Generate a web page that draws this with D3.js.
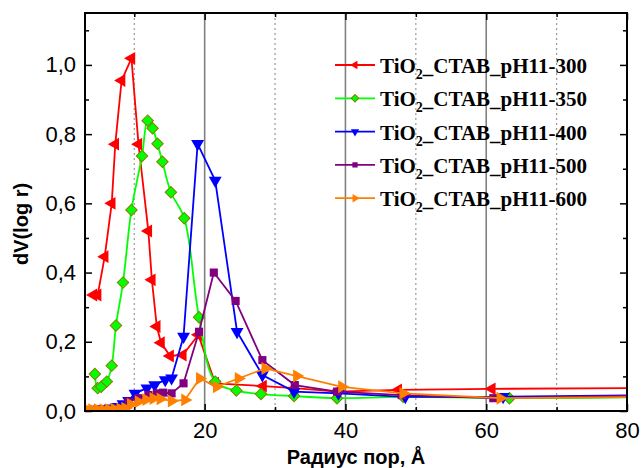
<!DOCTYPE html>
<html>
<head>
<meta charset="utf-8">
<script src="https://cdn.jsdelivr.net/npm/d3@7"></script>
<style>
  html, body { margin: 0; padding: 0; background: #fff; }
  #chart { width: 642px; height: 468px; }
  .tick-label { font-family: "Liberation Sans", Arial, sans-serif; font-size: 22px; fill: #000; }
  .axis-title { font-family: "Liberation Sans", Arial, sans-serif; font-size: 20px; font-weight: bold; fill: #000; }
  .legend-text { font-family: "Liberation Serif", "Times New Roman", serif; font-size: 21px; font-weight: bold; fill: #000; }
</style>
</head>
<body>
<div id="chart"></div>
<script>
// pore radius (A) and dV(log r) for each sample
const seriesNames = [
  "TiO2_CTAB_pH11-300",
  "TiO2_CTAB_pH11-350",
  "TiO2_CTAB_pH11-400",
  "TiO2_CTAB_pH11-500",
  "TiO2_CTAB_pH11-600"
]

const radius300 = [4.2, 4.8, 5.8, 6.8, 7.3, 8.2, 9.6, 10.6, 12.0, 12.5, 13.2, 13.8, 15.1, 16.9, 19.1, 21.5, 28.3, 32.8, 38.8, 47.5, 60.8, 95]
const dv300 = [0.335, 0.335, 0.446, 0.600, 0.771, 0.955, 1.019, 0.771, 0.520, 0.379, 0.244, 0.197, 0.159, 0.162, 0.220, 0.080, 0.072, 0.066, 0.056, 0.061, 0.064, 0.068]

const radius350 = [4.4, 4.8, 5.3, 6.1, 6.8, 7.4, 8.4, 9.6, 11.1, 11.9, 12.6, 13.3, 14.0, 15.2, 17.1, 19.2, 21.5, 24.5, 28.0, 32.7, 38.8, 48.2, 63.3, 95]
const dv350 = [0.107, 0.066, 0.070, 0.085, 0.131, 0.247, 0.371, 0.581, 0.737, 0.839, 0.817, 0.772, 0.720, 0.632, 0.557, 0.271, 0.085, 0.059, 0.049, 0.043, 0.037, 0.041, 0.037, 0.044]

const radius400 = [3.5, 4.2, 5.0, 5.8, 6.6, 7.5, 8.4, 9.2, 10.1, 11.8, 12.9, 14.4, 15.3, 17.0, 19.0, 21.5, 24.6, 28.2, 32.7, 39.0, 48.5, 62.4, 95]
const dv400 = [0.003, 0.004, 0.005, 0.006, 0.008, 0.012, 0.020, 0.030, 0.051, 0.066, 0.075, 0.090, 0.095, 0.215, 0.772, 0.666, 0.229, 0.104, 0.056, 0.051, 0.041, 0.041, 0.049]

const radius500 = [3.5, 4.2, 5.0, 5.8, 6.6, 7.4, 8.2, 9.2, 10.6, 12.0, 13.2, 14.1, 15.3, 17.0, 19.2, 21.3, 24.4, 28.2, 32.8, 38.8, 48.0, 61.0, 95]
const dv500 = [0.003, 0.003, 0.004, 0.004, 0.005, 0.006, 0.008, 0.027, 0.037, 0.046, 0.051, 0.053, 0.051, 0.080, 0.229, 0.400, 0.318, 0.147, 0.075, 0.056, 0.046, 0.037, 0.049]

const radius600 = [3.3, 4.0, 4.8, 5.6, 6.4, 7.2, 8.0, 8.7, 9.5, 10.6, 11.7, 12.7, 13.7, 15.3, 17.2, 19.3, 21.7, 24.8, 28.6, 33.1, 39.5, 48.2, 62.0, 95]
const dv600 = [0.004, 0.004, 0.004, 0.004, 0.004, 0.005, 0.006, 0.008, 0.019, 0.027, 0.033, 0.036, 0.035, 0.029, 0.032, 0.094, 0.070, 0.094, 0.123, 0.101, 0.070, 0.051, 0.037, 0.043]

const xMajorTicks = [20, 40, 60, 80]
const xMinorTicks = [10, 30, 50, 70]
const yMajorTicks = [0, 0.2, 0.4, 0.6, 0.8, 1.0]
const yMinorTicks = [0.1, 0.3, 0.5, 0.7, 0.9, 1.1]

const xLabel = "Радиус пор, Å"
const yLabel = "dV(log r)"

// look of each series, Origin-like
const seriesStyles = [
  { color: "#ff0000", symbol: d3.symbolTriangle, rotate: -90, size: 72, stroke: "none" },
  { color: "#00ff00", symbol: d3.symbolSquare, rotate: 45, size: 66, stroke: "#808000", curve: true },
  { color: "#0000ff", symbol: d3.symbolTriangle, rotate: 180, size: 72, stroke: "none" },
  { color: "#800080", symbol: d3.symbolSquare, rotate: 0, size: 66, stroke: "none" },
  { color: "#ff8000", symbol: d3.symbolTriangle, rotate: 90, size: 72, stroke: "none" }
]

const allRadius = [radius300, radius350, radius400, radius500, radius600]
const allDv = [dv300, dv350, dv400, dv500, dv600]

const series = seriesNames.map((name, i) => ({
  name,
  style: seriesStyles[i],
  points: allRadius[i].map((r, j) => ({ r, v: allDv[i][j] }))
}))

class PoreChart {
  constructor(wrapper) {
    this.wrapper = d3.select(wrapper)
    this.dimensions = {
      width: 642,
      height: 468,
      margin: { top: 13, right: 15, bottom: 57, left: 85 }
    }
    this.dimensions.boundedWidth = this.dimensions.width
      - this.dimensions.margin.left
      - this.dimensions.margin.right
    this.dimensions.boundedHeight = this.dimensions.height
      - this.dimensions.margin.top
      - this.dimensions.margin.bottom
    this.commaFormat = d3.formatLocale({
      decimal: ",", thousands: " ", grouping: [3], currency: ["", ""]
    }).format(".1f")
  }

  draw() {
    this.setScales()
    this.drawCanvas()
    this.drawGrid()
    this.drawSeries()
    this.drawAxes()
    this.drawLabels()
    this.drawLegend()
  }

  setScales() {
    this.xScale = d3.scaleLinear()
      .domain([3, 80])
      .range([0, this.dimensions.boundedWidth])
    this.yScale = d3.scaleLinear()
      .domain([0, 1.15])
      .range([this.dimensions.boundedHeight, 0])
  }

  drawCanvas() {
    this.svg = this.wrapper.append("svg")
        .attr("width", this.dimensions.width)
        .attr("height", this.dimensions.height)

    this.svg.append("defs").append("clipPath")
        .attr("id", "plot-clip")
      .append("rect")
        .attr("width", this.dimensions.boundedWidth)
        .attr("height", this.dimensions.boundedHeight)

    this.bounds = this.svg.append("g")
        .attr("transform", `translate(${this.dimensions.margin.left},${this.dimensions.margin.top})`)
  }

  drawGrid() {
    const h = this.dimensions.boundedHeight
    this.bounds.append("g")
      .selectAll("line")
      .data(xMajorTicks.filter(d => d < 80))
      .join("line")
        .attr("x1", d => this.xScale(d))
        .attr("x2", d => this.xScale(d))
        .attr("y1", 0)
        .attr("y2", h)
        .attr("stroke", "#808080")
        .attr("stroke-width", 1.6)

    this.bounds.append("g")
      .selectAll("line")
      .data(xMinorTicks)
      .join("line")
        .attr("x1", d => this.xScale(d))
        .attr("x2", d => this.xScale(d))
        .attr("y1", 0)
        .attr("y2", h)
        .attr("stroke", "#9a9a9a")
        .attr("stroke-width", 1.2)
        .attr("stroke-dasharray", "2,3")
  }

  drawSeries() {
    const plot = this.bounds.append("g")
        .attr("clip-path", "url(#plot-clip)")

    series.forEach(s => {
      const line = d3.line()
        .x(d => this.xScale(d.r))
        .y(d => this.yScale(d.v))
        .curve(s.style.curve ? d3.curveCatmullRom.alpha(0.5) : d3.curveLinear)

      const g = plot.append("g")
      g.append("path")
          .datum(s.points)
          .attr("d", line)
          .attr("fill", "none")
          .attr("stroke", s.style.color)
          .attr("stroke-width", 1.8)

      g.selectAll("path.marker")
        .data(s.points)
        .join("path")
          .attr("class", "marker")
          .attr("d", d3.symbol().type(s.style.symbol).size(s.style.size))
          .attr("transform", d => `translate(${this.xScale(d.r)},${this.yScale(d.v)}) rotate(${s.style.rotate})`)
          .attr("fill", s.style.color)
          .attr("stroke", s.style.stroke)
          .attr("stroke-width", 1)
    })
  }

  drawAxes() {
    const w = this.dimensions.boundedWidth
    const h = this.dimensions.boundedHeight

    this.bounds.append("g")
        .attr("transform", `translate(0,${h})`)
        .call(d3.axisBottom(this.xScale).tickValues(xMajorTicks).tickSize(-7).tickPadding(11).tickFormat(d3.format("d")))
    this.bounds.append("g")
        .attr("transform", `translate(0,${h})`)
        .call(d3.axisBottom(this.xScale).tickValues(xMinorTicks).tickSize(-4).tickFormat(""))
    this.bounds.append("g")
        .call(d3.axisTop(this.xScale).tickValues(xMajorTicks).tickSize(-7).tickFormat(""))
    this.bounds.append("g")
        .call(d3.axisTop(this.xScale).tickValues(xMinorTicks).tickSize(-4).tickFormat(""))

    this.bounds.append("g")
        .call(d3.axisLeft(this.yScale).tickValues(yMajorTicks).tickSize(-7).tickPadding(9).tickFormat(this.commaFormat))
    this.bounds.append("g")
        .call(d3.axisLeft(this.yScale).tickValues(yMinorTicks).tickSize(-4).tickFormat(""))
    this.bounds.append("g")
        .attr("transform", `translate(${w},0)`)
        .call(d3.axisRight(this.yScale).tickValues(yMajorTicks).tickSize(-7).tickFormat(""))
    this.bounds.append("g")
        .attr("transform", `translate(${w},0)`)
        .call(d3.axisRight(this.yScale).tickValues(yMinorTicks).tickSize(-4).tickFormat(""))

    this.bounds.selectAll(".domain").remove()
    this.bounds.selectAll(".tick line")
        .attr("stroke", "#000")
        .attr("stroke-width", 1.5)
    this.bounds.selectAll(".tick text")
        .attr("class", "tick-label")
        .attr("font-family", null)
        .attr("font-size", null)

    // frame
    this.bounds.append("rect")
        .attr("width", w)
        .attr("height", h)
        .attr("fill", "none")
        .attr("stroke", "#000")
        .attr("stroke-width", 2)
  }

  drawLabels() {
    this.svg.append("text")
        .attr("class", "axis-title")
        .attr("x", this.dimensions.margin.left + this.dimensions.boundedWidth / 2)
        .attr("y", 464)
        .attr("text-anchor", "middle")
        .text(xLabel)

    this.svg.append("text")
        .attr("class", "axis-title")
        .attr("transform", "translate(28,224) rotate(-90)")
        .attr("text-anchor", "middle")
        .text(yLabel)
  }

  drawLegend() {
    const legend = this.svg.append("g")
        .attr("transform", "translate(335,65)")

    const rows = legend.selectAll("g")
      .data(series)
      .join("g")
        .attr("transform", (d, i) => `translate(0,${i * 33.3})`)

    rows.append("line")
        .attr("x1", 0)
        .attr("x2", 40)
        .attr("stroke", d => d.style.color)
        .attr("stroke-width", 1.8)
    rows.append("path")
        .attr("d", d => d3.symbol().type(d.style.symbol).size(d.style.size * 0.42)())
        .attr("transform", d => `translate(20,0) rotate(${d.style.rotate})`)
        .attr("fill", d => d.style.color)
        .attr("stroke", d => d.style.stroke)

    const text = rows.append("text")
        .attr("class", "legend-text")
        .attr("x", 45)
        .attr("y", 8)
    text.append("tspan").text(d => d.name.slice(0, 3))
    text.append("tspan")
        .attr("dy", 6)
        .attr("font-size", 14)
        .text(d => d.name.slice(3, 4))
    text.append("tspan")
        .attr("dy", -6)
        .text(d => d.name.slice(4))
  }
}

new PoreChart("#chart").draw()
</script>
</body>
</html>
